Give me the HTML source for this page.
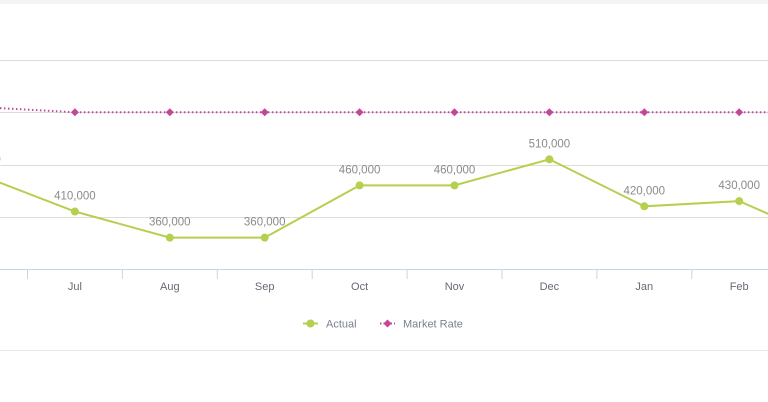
<!DOCTYPE html>
<html><head><meta charset="utf-8"><style>
html,body{margin:0;padding:0;background:#fff;width:768px;height:402px;overflow:hidden;font-family:"Liberation Sans",sans-serif}
</style></head><body>
<svg id="chart" width="768" height="402" xmlns="http://www.w3.org/2000/svg">
<rect x="0" y="0" width="768" height="4" fill="#f4f4f4"/>
<line x1="0" y1="350.5" x2="768" y2="350.5" stroke="#e8e8e8" stroke-width="1"/>
<g id="grid"></g><g id="axis"></g><g id="series"></g>
<g>
 <g>
  <line x1="303" y1="323.5" x2="318" y2="323.5" stroke="#b5cf4e" stroke-width="2"/>
  <circle cx="310.5" cy="323.5" r="4" fill="#b5cf4e"/>
  <text x="326" y="327.5" font-size="11" fill="#7a8090">Actual</text>
 </g>
 <g>
  <line x1="380" y1="323.5" x2="395" y2="323.5" stroke="#c2479b" stroke-width="2" stroke-dasharray="1.5,2"/>
  <path d="M387.5 319.5 L391.5 323.5 L387.5 327.5 L383.5 323.5Z" fill="#c2479b"/>
  <text x="403" y="327.5" font-size="11" fill="#7a8090">Market Rate</text>
 </g>
</g>
</svg>
<script>
const categories=["Jun","Jul","Aug","Sep","Oct","Nov","Dec","Jan","Feb","Mar"];
const actual=[480000,410000,360000,360000,460000,460000,510000,420000,430000,350000];
const marketRate=[610000,600000,600000,600000,600000,600000,600000,600000,600000,600000];
const yTicks=[300000,400000,500000,600000,700000];
const NS="http://www.w3.org/2000/svg";
const x=i=>-20+i*94.9;
const y=v=>269-(v-300000)*0.0005225;
function mk(tag,attrs,parent){const e=document.createElementNS(NS,tag);for(const k in attrs)e.setAttribute(k,attrs[k]);parent.appendChild(e);return e;}
const grid=document.getElementById('grid'),axis=document.getElementById('axis'),series=document.getElementById('series');
yTicks.forEach(t=>{if(t===300000)return;const l=mk('line',{x1:0,x2:768,y1:Math.round(y(t))+0.5,y2:Math.round(y(t))+0.5,stroke:'#dcdcdc','stroke-width':1},grid);

});
const ax=mk('line',{x1:0,x2:768,y1:269.5,y2:269.5,stroke:'#c8d6e4','stroke-width':1},axis);


categories.forEach((c,i)=>{
 const tk=mk('line',{x1:x(i)+47.5,x2:x(i)+47.5,y1:269,y2:279,stroke:'#c8d6e4','stroke-width':1},axis);
 
 
 const t=mk('text',{x:x(i),y:290,'text-anchor':'middle','font-size':11,fill:'#666a75'},axis);t.textContent=c;
 
 
});
const mp=mk('polyline',{points:marketRate.map((v,i)=>x(i)+','+y(v)).join(' '),fill:'none',stroke:'#c2479b','stroke-width':2,'stroke-dasharray':'1.5,2.5'},series);


marketRate.forEach((v,i)=>{const cx=x(i),cy=y(v);const p=mk('path',{d:`M${cx} ${cy-4} L${cx+4} ${cy} L${cx} ${cy+4} L${cx-4} ${cy}Z`,fill:'#c2479b'},series);

});
const ap=mk('polyline',{points:actual.map((v,i)=>x(i)+','+y(v)).join(' '),fill:'none',stroke:'#b5cf4e','stroke-width':2},series);


actual.forEach((v,i)=>{const c=mk('circle',{cx:x(i),cy:y(v),r:4,fill:'#b5cf4e'},series);


const t=mk('text',{x:x(i),y:y(v)-12,'text-anchor':'middle','font-size':11.5,fill:'#8a8a8a'},series);t.textContent=v.toLocaleString('en-US');

});
</script>
</body></html>
